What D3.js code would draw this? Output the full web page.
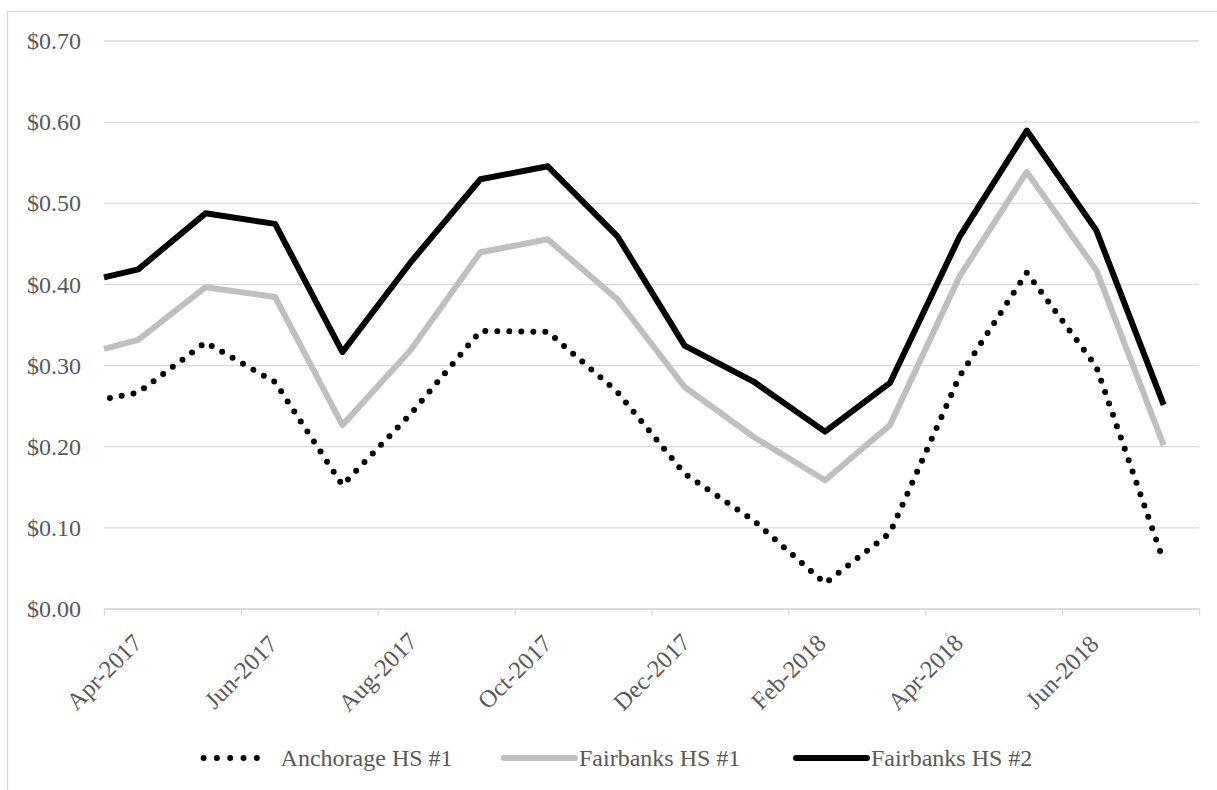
<!DOCTYPE html>
<html>
<head>
<meta charset="utf-8">
<script src="https://cdn.jsdelivr.net/npm/d3@7/dist/d3.min.js"></script>
<style>
  html, body { margin: 0; padding: 0; background: #ffffff; }
  svg { display: block; }
  text { font-family: "Liberation Serif", "Times New Roman", serif; fill: #595959; }
</style>
</head>
<body>
<svg id="chart" width="1217" height="790"></svg>
<script>
// Sampling dates (first reading on Apr 1, then mid-month)
const dates = [
  "2017-04-01", "2017-04-16", "2017-05-16", "2017-06-16", "2017-07-16", "2017-08-16",
  "2017-09-16", "2017-10-16", "2017-11-16", "2017-12-16", "2018-01-16", "2018-02-16",
  "2018-03-16", "2018-04-16", "2018-05-16", "2018-06-16", "2018-07-16"
];

// Price per unit, dollars
const anchorageHS1 = [0.258, 0.266, 0.328, 0.279, 0.152, 0.240, 0.342, 0.341, 0.267, 0.166, 0.109, 0.031, 0.093, 0.286, 0.414, 0.298, 0.058];
const fairbanksHS1 = [0.320, 0.331, 0.396, 0.384, 0.226, 0.319, 0.439, 0.455, 0.381, 0.273, 0.212, 0.158, 0.226, 0.409, 0.538, 0.417, 0.201];
const fairbanksHS2 = [0.408, 0.418, 0.487, 0.474, 0.316, 0.427, 0.529, 0.545, 0.459, 0.324, 0.280, 0.218, 0.278, 0.458, 0.589, 0.466, 0.251];

const seriesNames = ["Anchorage HS #1", "Fairbanks HS #1", "Fairbanks HS #2"];

// Axis ticks: one every two months, from Apr-2017 to the axis end at Aug-2018
const tickMonths = ["2017-04", "2017-06", "2017-08", "2017-10", "2017-12", "2018-02", "2018-04", "2018-06", "2018-08"];
const tickLabels = ["Apr-2017", "Jun-2017", "Aug-2017", "Oct-2017", "Dec-2017", "Feb-2018", "Apr-2018", "Jun-2018"];
const yTicks = [0, 0.1, 0.2, 0.3, 0.4, 0.5, 0.6, 0.7];

// Month-based date axis: every month gets the same width
const startYear = 2017, startMonth = 4;
function monthIndex(str) {
  const [yr, mo, dy] = str.split("-").map(Number);
  const base = (yr - startYear) * 12 + (mo - startMonth);
  if (!dy) return base;
  const dim = new Date(Date.UTC(yr, mo, 0)).getUTCDate();
  return base + (dy - 1) / dim;
}

const svg = d3.select("#chart");
const plotLeft = 104, plotRight = 1199, plotTop = 40.5, plotBottom = 608.5;

const x = d3.scaleLinear()
  .domain([monthIndex(tickMonths[0]), monthIndex(tickMonths[tickMonths.length - 1])])
  .range([plotLeft, plotRight]);
const y = d3.scaleLinear().domain([0, 0.7]).range([plotBottom, plotTop]);

// Chart area border
svg.append("rect")
  .attr("x", 7.5).attr("y", 11.5)
  .attr("width", 1240).attr("height", 800)
  .attr("fill", "none").attr("stroke", "#d9d9d9").attr("stroke-width", 1.3);

// Horizontal gridlines and value labels
const yAxis = d3.axisLeft(y)
  .tickValues(yTicks)
  .tickSize(-(plotRight - plotLeft))
  .tickPadding(23)
  .tickFormat(d => "$" + d.toFixed(2));
const gy = svg.append("g").attr("transform", `translate(${plotLeft},0)`).call(yAxis);
gy.select(".domain").remove();
gy.selectAll(".tick line").attr("stroke", "#d9d9d9").attr("stroke-width", 1.3);
gy.selectAll(".tick text")
  .attr("font-size", 24)
  .attr("fill", "#595959")
  .attr("font-family", "Liberation Serif, serif")
  .attr("dy", "0.34em");

// Horizontal axis with tick marks
const xTickVals = tickMonths.map(monthIndex);
const xAxis = d3.axisBottom(x)
  .tickValues(xTickVals)
  .tickSize(7)
  .tickSizeOuter(0)
  .tickFormat(() => "");
const gx = svg.append("g").attr("transform", `translate(0,${plotBottom})`).call(xAxis);
gx.select(".domain").attr("stroke", "#d9d9d9").attr("stroke-width", 1.3);
gx.selectAll(".tick line").attr("stroke", "#d9d9d9").attr("stroke-width", 1.3);

// Rotated month labels, centred under their ticks
svg.append("g").selectAll("text")
  .data(tickLabels)
  .join("text")
  .attr("transform", (d, i) => `translate(${x(xTickVals[i])},${672}) rotate(-45)`)
  .attr("text-anchor", "middle")
  .attr("dy", "0.34em")
  .attr("font-size", 24.5)
  .text(d => d);

// Series lines
const series = [
  { name: seriesNames[0], values: anchorageHS1, color: "#000000", dash: "0 12", cap: "round" },
  { name: seriesNames[1], values: fairbanksHS1, color: "#bfbfbf", dash: null, cap: "butt" },
  { name: seriesNames[2], values: fairbanksHS2, color: "#000000", dash: null, cap: "butt" }
];

const line = d3.line()
  .x(d => x(d.t))
  .y(d => y(d.v));

series.forEach(s => {
  const pts = dates.map((dt, i) => ({ t: monthIndex(dt), v: s.values[i] }));
  svg.append("path")
    .datum(pts)
    .attr("d", line)
    .attr("fill", "none")
    .attr("stroke", s.color)
    .attr("stroke-width", 6)
    .attr("stroke-linejoin", "round")
    .attr("stroke-linecap", s.cap)
    .attr("stroke-dasharray", s.dash)
    .attr("stroke-dashoffset", s.dash ? -6 : null);
});

// Legend
const legendStarts = [203.6, 504, 796];
const legendY = 758;
const lg = svg.append("g");
series.forEach((s, i) => {
  const x0 = legendStarts[i];
  const dotted = !!s.dash;
  lg.append("line")
    .attr("x1", x0).attr("x2", x0 + (dotted ? 66.5 : 71))
    .attr("y1", legendY).attr("y2", legendY)
    .attr("stroke", s.color)
    .attr("stroke-width", 6)
    .attr("stroke-linecap", "round")
    .attr("stroke-dasharray", dotted ? "0 13.3" : null);
  lg.append("text")
    .attr("x", x0 + (dotted ? 77 : 75))
    .attr("y", legendY)
    .attr("dy", "0.34em")
    .attr("font-size", 24)
    .text(s.name);
});
</script>
</body>
</html>
